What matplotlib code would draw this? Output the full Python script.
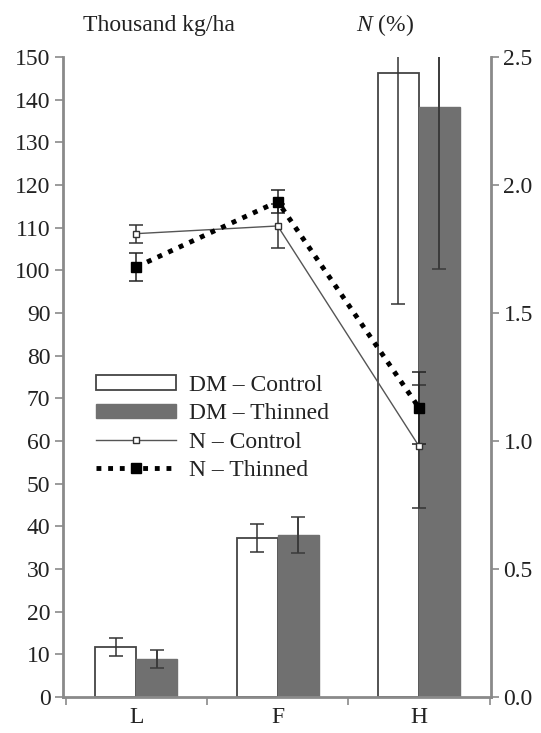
import matplotlib
matplotlib.use("Agg")
import matplotlib.pyplot as plt
import numpy as np
from matplotlib.ticker import FixedLocator, NullFormatter, FixedFormatter, FormatStrFormatter

plt.rcParams['font.family'] = ['Liberation Serif', 'DejaVu Serif']
plt.rcParams['mathtext.fontset'] = 'custom'
plt.rcParams['mathtext.rm'] = 'Liberation Serif'
plt.rcParams['mathtext.it'] = 'Liberation Serif:italic'

categories = ['L', 'F', 'H']
dm_control = [11.7, 37.3, 146.2]
dm_control_err = [2.1, 3.2, 54.0]
dm_thinned = [8.9, 38.0, 138.3]
dm_thinned_err = [2.1, 4.2, 38.0]
n_control = [1.81, 1.84, 0.98]
n_control_err = [0.035, 0.085, 0.24]
n_thinned = [1.68, 1.935, 1.13]
n_thinned_err = [0.055, 0.045, 0.14]

left_ticks = list(range(0, 151, 10))
right_ticks = [0.0, 0.5, 1.0, 1.5, 2.0, 2.5]

W, H = 541, 733
fig = plt.figure(figsize=(W / 100, H / 100), dpi=100)
ax = fig.add_axes([63 / W, (H - 697) / H, (491 - 63) / W, (697 - 57) / H])
ax2 = ax.twinx()

x = np.arange(len(categories))
bw = 0.29
off = 0.145
spine_c = '#8a8a8a'
text_c = '#222222'
fs = 17

ax.bar(x - off, dm_control, bw, color='white', edgecolor='#444444', linewidth=1.3,
       label='DM – Control', zorder=2)
ax.bar(x + off, dm_thinned, bw, color='#707070', edgecolor='#707070', linewidth=1.0,
       label='DM – Thinned', zorder=2)
ax.errorbar(x - off, dm_control, yerr=dm_control_err, fmt='none', ecolor='#333333',
            elinewidth=1.1, capsize=5, capthick=1.1, zorder=3)
ax.errorbar(x + off, dm_thinned, yerr=dm_thinned_err, fmt='none', ecolor='#3a3a3a',
            elinewidth=1.4, capsize=5, capthick=1.1, zorder=3)

ax.set_xlim(-0.52, 2.51)
ax.set_ylim(0, 150)
ax2.set_ylim(0, 2.5)

ax2.errorbar(x, n_control, yerr=n_control_err, fmt='none', ecolor='#333333',
             elinewidth=1.1, capsize=5, capthick=1.1, zorder=4)
ax2.errorbar(x, n_thinned, yerr=n_thinned_err, fmt='none', ecolor='#222222',
             elinewidth=1.1, capsize=5, capthick=1.1, zorder=4)
ln1, = ax2.plot(x, n_control, color='#555555', linewidth=1.0, marker='s', markersize=5,
                markerfacecolor='white', markeredgecolor='#333333', markeredgewidth=1.0,
                label='N – Control', zorder=5)
ln2, = ax2.plot(x, n_thinned, color='black', linewidth=3.5, linestyle=(0, (1, 1.4)),
                marker='s', markersize=6.5, markerfacecolor='black', markeredgecolor='black',
                label='N – Thinned', zorder=6)

# spines
for a in (ax, ax2):
    a.spines['top'].set_visible(False)
    for s in ('left', 'right', 'bottom'):
        a.spines[s].set_color(spine_c)
        a.spines[s].set_linewidth(2.0)
ax.spines['right'].set_visible(False)
ax2.spines['left'].set_visible(False)
ax2.spines['bottom'].set_visible(False)

ax.set_yticks(left_ticks)
ax.set_yticklabels([str(t) for t in left_ticks])
ax2.set_yticks(right_ticks)
ax2.yaxis.set_major_formatter(FormatStrFormatter('%.1f'))

ax.xaxis.set_major_locator(FixedLocator([-0.5, 0.5, 1.5, 2.5]))
ax.xaxis.set_major_formatter(NullFormatter())
ax.xaxis.set_minor_locator(FixedLocator(list(x)))
ax.xaxis.set_minor_formatter(FixedFormatter(categories))
ax.tick_params(axis='x', which='major', length=6, width=1.2, color=spine_c, direction='out')
ax.tick_params(axis='x', which='minor', length=0, pad=7, labelsize=fs, labelcolor=text_c)
ax.tick_params(axis='y', length=6, width=1.2, color=spine_c, direction='out', pad=3,
               labelsize=fs, labelcolor=text_c)
ax2.tick_params(axis='y', length=6, width=1.2, color=spine_c, direction='out', pad=3,
                labelsize=fs, labelcolor=text_c)

fig.text(83 / W, 1 - 25 / H, 'Thousand kg/ha', fontsize=fs, color=text_c, ha='left', va='center')
fig.text(356 / W, 1 - 25 / H, r'$\mathit{N}$ (%)', fontsize=fs, color=text_c, ha='left', va='center')

handles, labels = ax.get_legend_handles_labels()
leg = ax2.legend(handles + [ln1, ln2], labels + ['N – Control', 'N – Thinned'],
                 loc='upper left', bbox_to_anchor=(96 / W, 1 - 375 / H),
                 bbox_transform=fig.transFigure, frameon=False, fontsize=fs,
                 handlelength=3.4, handleheight=0.6, handletextpad=0.55,
                 labelspacing=0.31, borderpad=0, borderaxespad=0, labelcolor=text_c)
leg.set_zorder(10)

fig.savefig('out.png', dpi=100)
